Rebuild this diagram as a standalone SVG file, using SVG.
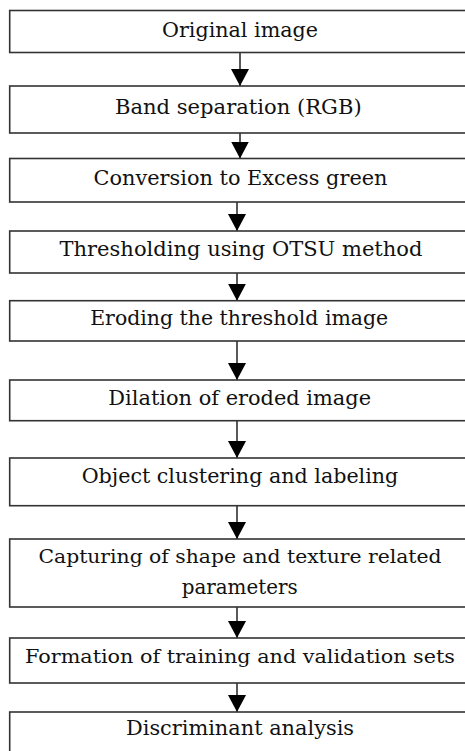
<svg xmlns="http://www.w3.org/2000/svg" width="465" height="751" viewBox="0 0 465 751">
<style>
.box{fill:#fff;stroke:#333;stroke-width:1.6}
text{font-family:"DejaVu Serif","Liberation Serif",serif;font-size:20.5px;fill:#111;text-anchor:middle}
text.long{font-size:18.5px}
.c{stroke:#222;stroke-width:1.5;fill:none}
</style>
<defs>
<marker id="ah" markerUnits="userSpaceOnUse" markerWidth="17" markerHeight="18" refX="17" refY="9" orient="auto" viewBox="0 0 17 18">
<path d="M0,0 L17,9 L0,18 Z" fill="#000"/>
</marker>
</defs>
<rect width="465" height="751" fill="#fff"/>
<g id="connectors">
<path class="c" d="M240,52.5 V86" marker-end="url(#ah)"/>
<path class="c" d="M240,133 V158.5" marker-end="url(#ah)"/>
<path class="c" d="M237,202 V231" marker-end="url(#ah)"/>
<path class="c" d="M237,273 V300.7" marker-end="url(#ah)"/>
<path class="c" d="M237,341 V380" marker-end="url(#ah)"/>
<path class="c" d="M237,420.7 V458" marker-end="url(#ah)"/>
<path class="c" d="M237,505.7 V539" marker-end="url(#ah)"/>
<path class="c" d="M237,607 V638" marker-end="url(#ah)"/>
<path class="c" d="M237,683 V712" marker-end="url(#ah)"/>
</g>
<g id="n1"><rect class="box" x="9.7" y="10.5" width="470" height="42"/><text x="240" y="36.5" textLength="156" lengthAdjust="spacingAndGlyphs">Original image</text></g>
<g id="n2"><rect class="box" x="9.7" y="86" width="470" height="47"/><text x="238.3" y="113.5" textLength="246.7" lengthAdjust="spacingAndGlyphs">Band separation (RGB)</text></g>
<g id="n3"><rect class="box" x="9.7" y="158.5" width="470" height="43.5"/><text x="240.5" y="184.5" textLength="294" lengthAdjust="spacingAndGlyphs">Conversion to Excess green</text></g>
<g id="n4"><rect class="box" x="9.7" y="231" width="470" height="42"/><text x="241" y="256" textLength="363" lengthAdjust="spacingAndGlyphs">Thresholding using OTSU method</text></g>
<g id="n5"><rect class="box" x="9.7" y="300.7" width="470" height="40.3"/><text x="239.2" y="325" textLength="298" lengthAdjust="spacingAndGlyphs">Eroding the threshold image</text></g>
<g id="n6"><rect class="box" x="9.7" y="380" width="470" height="40.7"/><text x="239.7" y="405" textLength="262.7" lengthAdjust="spacingAndGlyphs">Dilation of eroded image</text></g>
<g id="n7"><rect class="box" x="9.7" y="458" width="470" height="47.7"/><text x="240" y="482.7" textLength="316.7" lengthAdjust="spacingAndGlyphs">Object clustering and labeling</text></g>
<g id="n8"><rect class="box" x="9.7" y="539" width="470" height="68"/><text class="long" x="240" y="563" textLength="403" lengthAdjust="spacingAndGlyphs">Capturing of shape and texture related</text><text x="239.7" y="594" textLength="116" lengthAdjust="spacingAndGlyphs">parameters</text></g>
<g id="n9"><rect class="box" x="9.7" y="638" width="470" height="45"/><text class="long" x="240" y="663" textLength="430" lengthAdjust="spacingAndGlyphs">Formation of training and validation sets</text></g>
<g id="n10"><rect class="box" x="9.7" y="712" width="470" height="60"/><text x="240" y="735" textLength="228" lengthAdjust="spacingAndGlyphs">Discriminant analysis</text></g>
</svg>
